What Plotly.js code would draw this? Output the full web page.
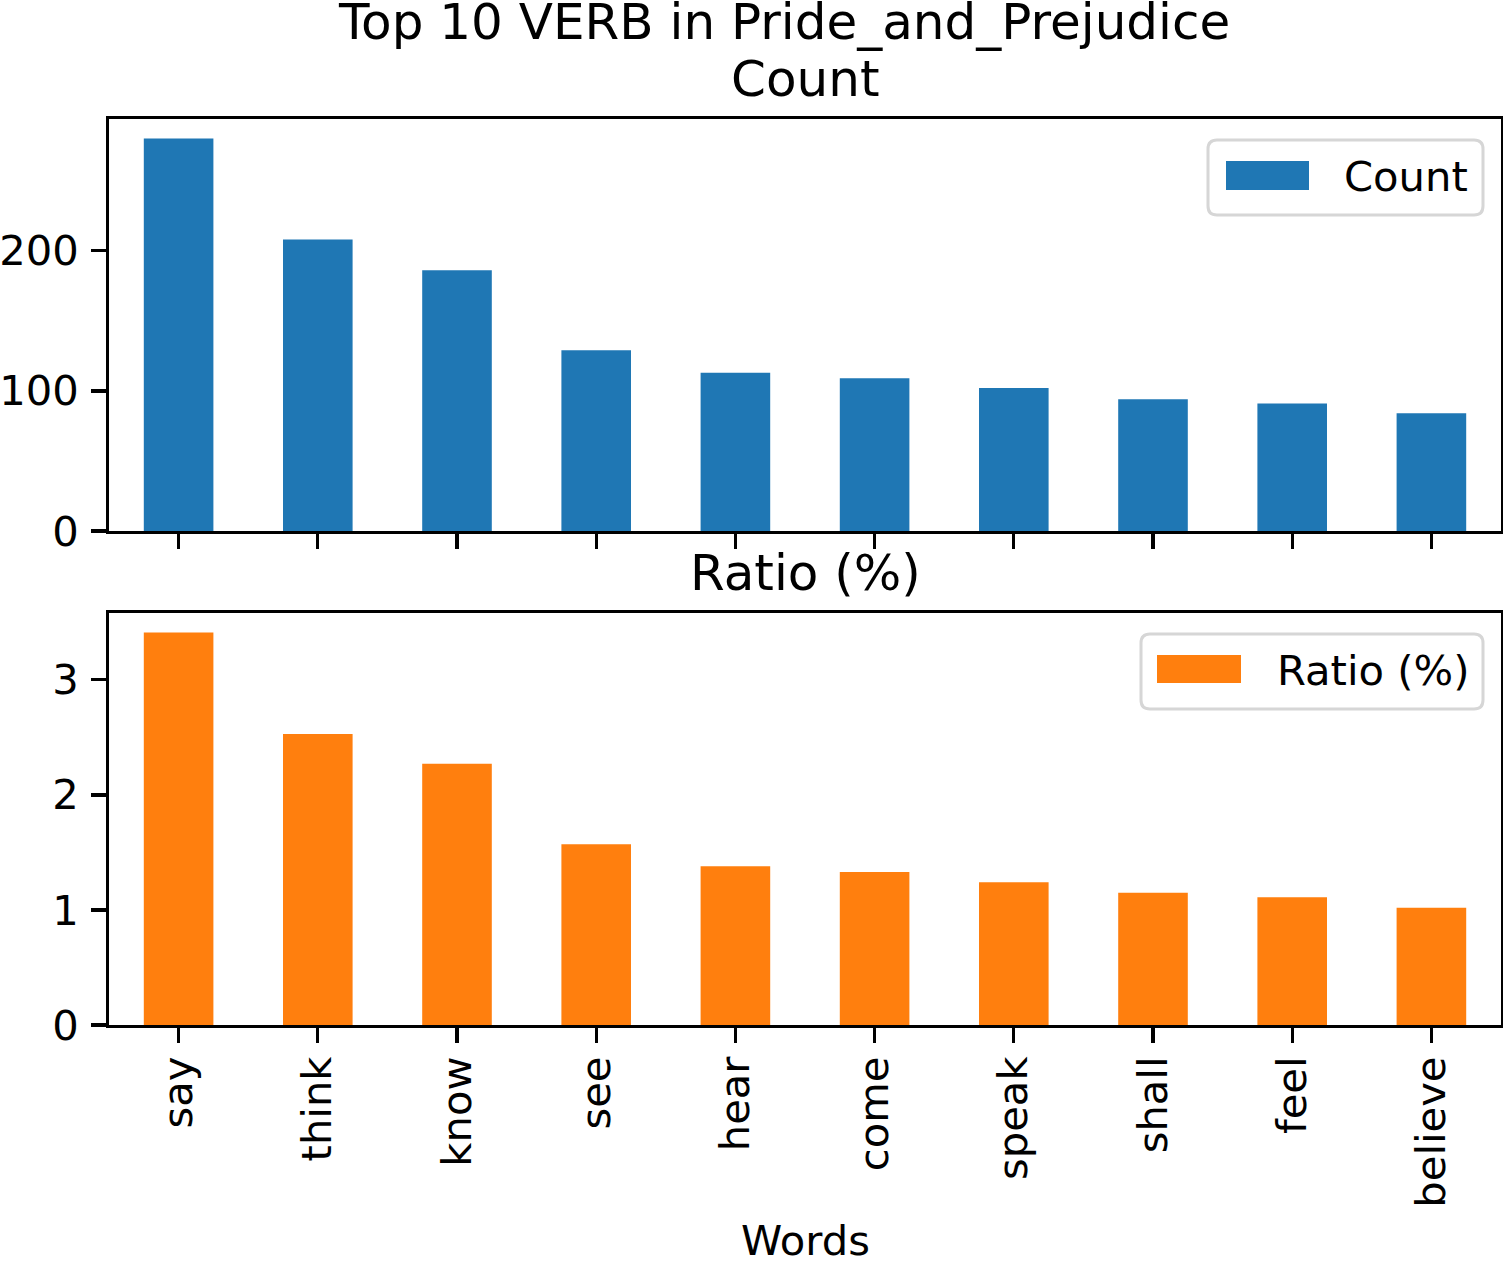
<!DOCTYPE html>
<html>
<head>
<meta charset="utf-8">
<script src="https://cdn.plot.ly/plotly-3.0.1.min.js"></script>
<style>html,body{margin:0;padding:0;background:#fff;}#chart{width:1503px;height:1264px;}</style>
</head>
<body>
<div id="chart"></div>
<script>
// ---- data ----
const words = ['say', 'think', 'know', 'see', 'hear', 'come', 'speak', 'shall', 'feel', 'believe'];
const counts = [280, 208, 186, 129, 113, 109, 102, 94, 91, 84];
const ratios = [3.41, 2.53, 2.27, 1.57, 1.38, 1.33, 1.24, 1.15, 1.11, 1.02];
const countTicks = [0, 100, 200];
const ratioTicks = [0, 1, 2, 3];
const suptitle = 'Top 10 VERB in Pride_and_Prejudice';
const countLabel = 'Count';
const ratioLabel = 'Ratio (%)';
const xLabel = 'Words';

// ---- layout geometry (pixels) ----
const W = 1503, H = 1264;
const L = 109, R = 1501, T = 119, B = 1025;
const px = x => (x - L) / (R - L);
const py = y => (B - y) / (B - T);
const FONT = 'DejaVu Sans, sans-serif';
const tickSize = 41.7, titleSize = 50;
const blue = '#1f77b4', orange = '#ff7f0e';
const lw = 3.3;

const traces = [
  {type: 'bar', x: words, y: counts, width: 0.5, marker: {color: blue, line: {width: 0}},
   xaxis: 'x', yaxis: 'y', showlegend: false, hoverinfo: 'x+y'},
  {type: 'bar', x: words, y: ratios, width: 0.5, marker: {color: orange, line: {width: 0}},
   xaxis: 'x2', yaxis: 'y2', showlegend: false, hoverinfo: 'x+y'}
];

const axisCommon = {
  showline: true, linecolor: '#000', linewidth: lw, mirror: true,
  ticks: 'outside', ticklen: 14.5, tickwidth: lw, tickcolor: '#000',
  showgrid: false, zeroline: false,
  tickfont: {family: FONT, size: tickSize, color: '#000'}
};

function roundedRect(x0, y0, x1, y1, r) {
  const X = v => px(v), Y = v => py(v);
  return 'M' + X(x0 + r) + ',' + Y(y0) +
    ' L' + X(x1 - r) + ',' + Y(y0) +
    ' Q' + X(x1) + ',' + Y(y0) + ' ' + X(x1) + ',' + Y(y0 + r) +
    ' L' + X(x1) + ',' + Y(y1 - r) +
    ' Q' + X(x1) + ',' + Y(y1) + ' ' + X(x1 - r) + ',' + Y(y1) +
    ' L' + X(x0 + r) + ',' + Y(y1) +
    ' Q' + X(x0) + ',' + Y(y1) + ' ' + X(x0) + ',' + Y(y1 - r) +
    ' L' + X(x0) + ',' + Y(y0 + r) +
    ' Q' + X(x0) + ',' + Y(y0) + ' ' + X(x0 + r) + ',' + Y(y0) + ' Z';
}

const shapes = [
  {type: 'path', xref: 'paper', yref: 'paper', path: roundedRect(1208, 140, 1483, 215, 9),
   line: {color: '#d6d6d6', width: 3}, fillcolor: 'rgba(255,255,255,0.8)', layer: 'above'},
  {type: 'rect', xref: 'paper', yref: 'paper', x0: px(1226), x1: px(1309), y0: py(190), y1: py(161),
   line: {width: 0}, fillcolor: blue, layer: 'above'},
  {type: 'path', xref: 'paper', yref: 'paper', path: roundedRect(1141, 634, 1483, 709, 9),
   line: {color: '#d6d6d6', width: 3}, fillcolor: 'rgba(255,255,255,0.8)', layer: 'above'},
  {type: 'rect', xref: 'paper', yref: 'paper', x0: px(1157), x1: px(1241), y0: py(683), y1: py(655),
   line: {width: 0}, fillcolor: orange, layer: 'above'}
];

const ann = (text, x, y, size, xanchor) => ({
  text: text, xref: 'paper', yref: 'paper', x: x, y: y, showarrow: false,
  xanchor: xanchor || 'center', yanchor: 'middle',
  font: {family: FONT, size: size, color: '#000'}
});

const annotations = [
  ann(suptitle, px(784), py(22), titleSize),
  ann(countLabel, 0.5, py(79), titleSize),
  ann(ratioLabel, 0.5, py(573), titleSize),
  ann(xLabel, 0.5, py(1240), tickSize),
  ann(countLabel, px(1342), py(176), tickSize, 'left'),
  ann(ratioLabel, px(1275), py(670), tickSize, 'left')
];

const layout = {
  width: W, height: H,
  margin: {l: L, r: W - R, t: T, b: H - B, pad: 0},
  paper_bgcolor: '#fff', plot_bgcolor: '#fff',
  showlegend: false,
  bargap: 0.5,
  xaxis: Object.assign({}, axisCommon, {domain: [0, 1], anchor: 'y', range: [-0.5, words.length - 0.5],
    showticklabels: false, type: 'category'}),
  yaxis: Object.assign({}, axisCommon, {domain: [py(531), 1], anchor: 'x',
    range: [0, Math.max(...counts) * 1.05], tickvals: countTicks, ticktext: countTicks.map(String),
    ticklabelstandoff: 4}),
  xaxis2: Object.assign({}, axisCommon, {domain: [0, 1], anchor: 'y2', range: [-0.5, words.length - 0.5],
    type: 'category', tickangle: -90, ticklabelstandoff: -3}),
  yaxis2: Object.assign({}, axisCommon, {domain: [0, py(613)], anchor: 'x2',
    range: [0, Math.max(...ratios) * 1.05], tickvals: ratioTicks, ticktext: ratioTicks.map(String),
    ticklabelstandoff: 4}),
  shapes: shapes,
  annotations: annotations
};

Plotly.newPlot('chart', traces, layout, {displayModeBar: false, staticPlot: true});
</script>
</body>
</html>
